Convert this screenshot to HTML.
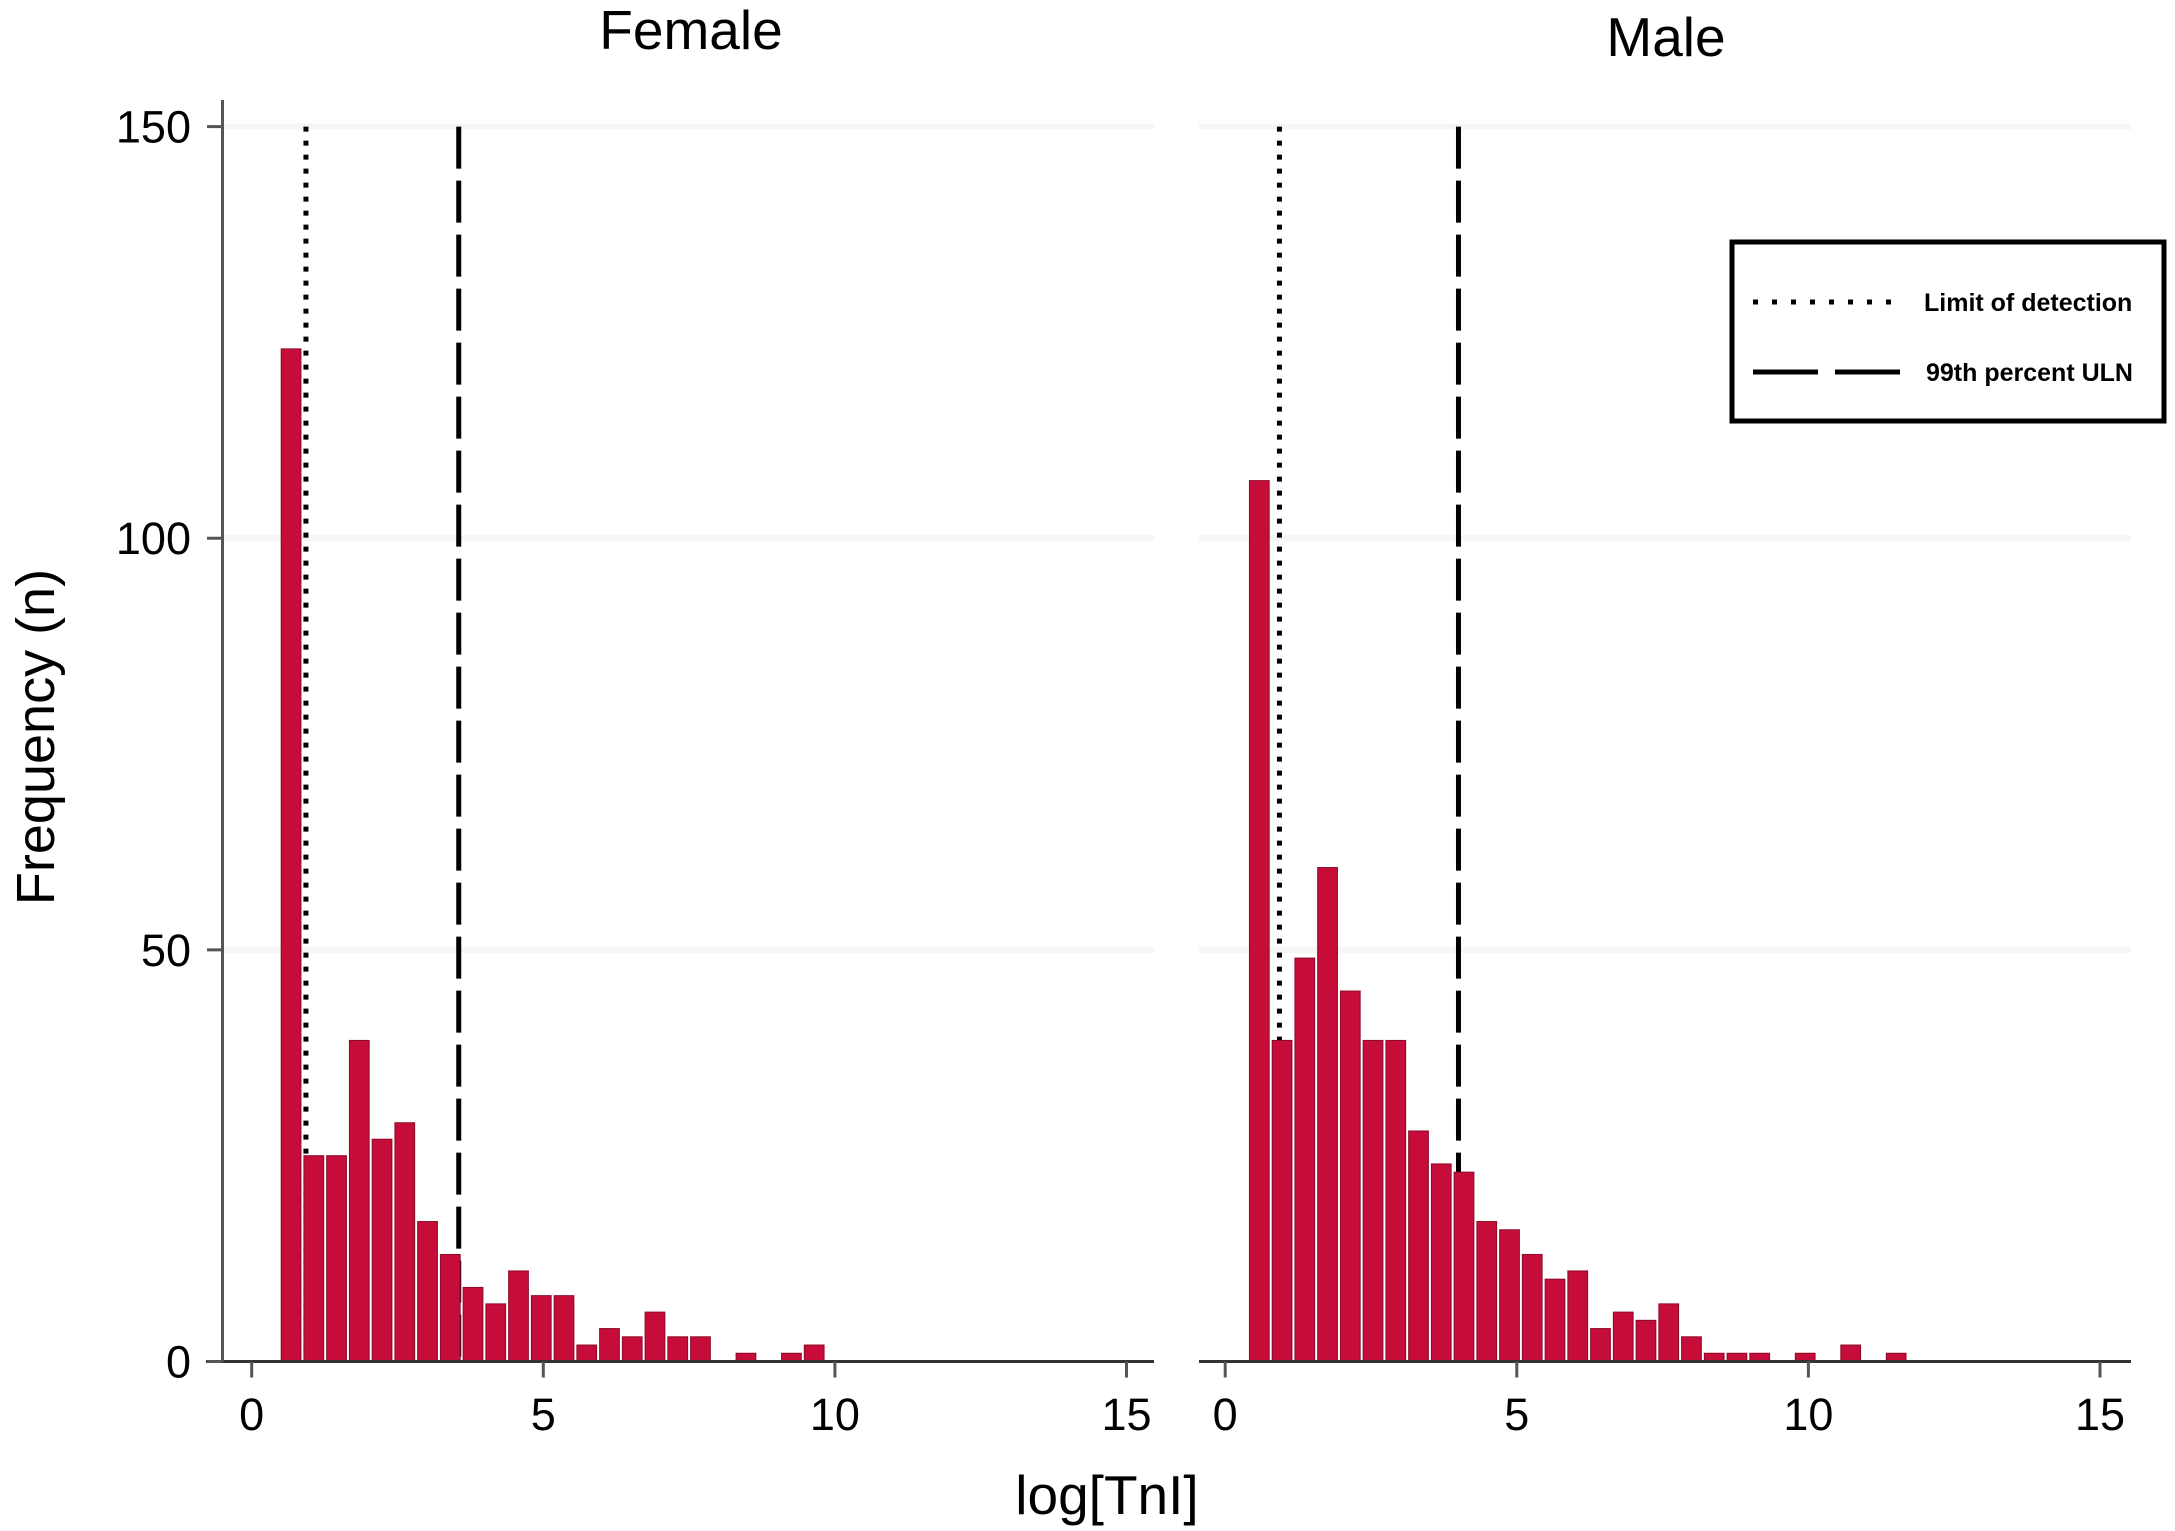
<!DOCTYPE html>
<html><head><meta charset="utf-8">
<style>
html,body{margin:0;padding:0;background:#fff;}
svg{display:block;font-family:"Liberation Sans",Arial,sans-serif;}
</style></head>
<body>
<svg id="chart" width="2175" height="1531" viewBox="0 0 2175 1531" xmlns="http://www.w3.org/2000/svg">
<rect x="0" y="0" width="2175" height="1531" fill="#fff"/>
<text x="691" y="49" font-size="55" text-anchor="middle" fill="#000">Female</text>
<text x="1666" y="56" font-size="55" text-anchor="middle" fill="#000">Male</text>
<text transform="translate(54,737) rotate(-90)" font-size="54" text-anchor="middle" fill="#000">Frequency (n)</text>
<text x="1107" y="1514" font-size="55" text-anchor="middle" fill="#000">log[TnI]</text>
<g id="layer"></g>
<g>
  <rect x="1732" y="242" width="432" height="179" fill="#fff" stroke="#000" stroke-width="5"/>
  <line x1="1753" y1="302" x2="1902" y2="302" stroke="#000" stroke-width="5" stroke-dasharray="5,14"/>
  <text x="1924" y="311" font-size="25" font-weight="bold" fill="#000">Limit of detection</text>
  <line x1="1753" y1="372" x2="1900" y2="372" stroke="#000" stroke-width="5" stroke-dasharray="65,17"/>
  <text x="1926" y="381" font-size="25" font-weight="bold" fill="#000">99th percent ULN</text>
</g>
</svg>
<script>
const femaleCounts = [123,25,25,39,27,29,17,13,9,7,11,8,8,2,4,3,6,3,3,0,1,0,1,2];
const maleCounts = [107,39,49,60,45,39,39,28,24,23,17,16,13,10,11,4,6,5,7,3,1,1,1,0,1,0,2,0,1];
const binWidth = [0.39];
const binStarts = [0.48, 0.39];
const xTicks = [0,5,10,15];
const yTicks = [0,50,100,150];
const lodValues = [0.93, 0.93];
const ulnValues = [3.55, 4.0];

const NS = "http://www.w3.org/2000/svg";
const layer = document.getElementById('layer');
const Y0 = 1361.5, YPER = (1361.5-126.6)/150;
function yScale(v){ return Y0 - v*YPER; }
const panels = [
  {name:'female', x0:251.7, axisL:206, axisR:1154, gridL:222, gridR:1154, counts:femaleCounts},
  {name:'male', x0:1225.2, axisL:1199, axisR:2131, gridL:1199, gridR:2131, counts:maleCounts}
];
const XPER = (1126.5-251.7)/15;
function mk(tag, attrs){ const e=document.createElementNS(NS,tag); for(const k in attrs) e.setAttribute(k,attrs[k]); layer.appendChild(e); return e; }

panels.forEach((p,pi)=>{
  const xs = v => p.x0 + v*XPER;
  yTicks.forEach(t=>{
    if(t===0) return;
    const g = mk('line',{x1:p.gridL,x2:p.gridR,y1:yScale(t),y2:yScale(t),stroke:'#f6f6f6','stroke-width':6});
    
    
  });
  const lod = mk('line',{x1:xs(lodValues[pi]),x2:xs(lodValues[pi]),y1:yScale(150),y2:Y0,stroke:'#000','stroke-width':5,'stroke-dasharray':'5,9'});
  
  
  const uln = mk('line',{x1:xs(ulnValues[pi]),x2:xs(ulnValues[pi]),y1:yScale(150),y2:Y0,stroke:'#000','stroke-width':5,'stroke-dasharray':'42,12'});
  
  
  p.counts.forEach((c,i)=>{
    if(c<=0) return;
    const a = xs(binStarts[pi] + i*binWidth[0]);
    const b = xs(binStarts[pi] + (i+1)*binWidth[0]);
    const r = mk('rect',{x:a+1.5,y:yScale(c),width:b-a-3,height:Y0-yScale(c),fill:'#c60c38',stroke:'#8a0a28','stroke-width':1});
    
    
  });
  const ax = mk('line',{x1:p.axisL,x2:p.axisR,y1:Y0,y2:Y0,stroke:'#333','stroke-width':3});
  
  
  xTicks.forEach(t=>{
    const tk = mk('line',{x1:xs(t),x2:xs(t),y1:Y0,y2:Y0+16,stroke:'#555','stroke-width':3});
    
    
    const tl = mk('text',{x:xs(t),y:1430,'font-size':45,'text-anchor':'middle',fill:'#000'});
    tl.textContent = String(t);
    
    
  });
});
const yax = mk('line',{x1:222.5,x2:222.5,y1:100,y2:Y0,stroke:'#555','stroke-width':3});


yTicks.forEach(t=>{
  const tk = mk('line',{x1:207,x2:222.5,y1:yScale(t),y2:yScale(t),stroke:'#555','stroke-width':3});
  
  
  const tl = mk('text',{x:191,y:yScale(t)+16,'font-size':45,'text-anchor':'end',fill:'#000'});
  tl.textContent = String(t);
  
  
});
</script>
</body></html>
